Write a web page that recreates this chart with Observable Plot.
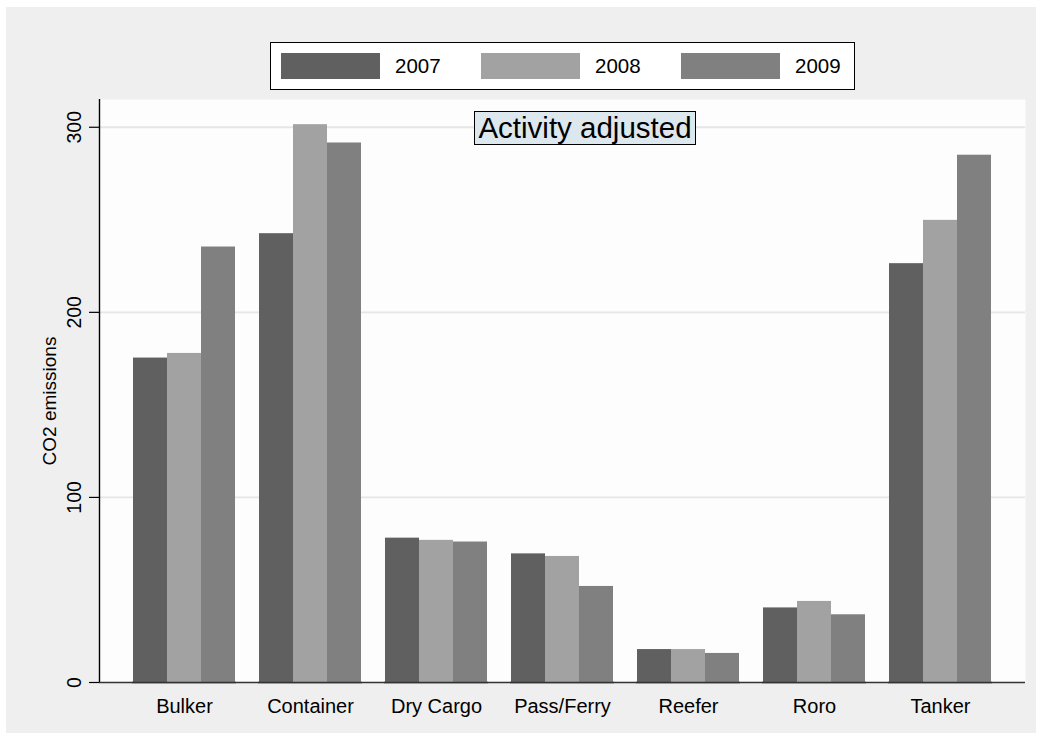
<!DOCTYPE html>
<html>
<head>
<meta charset="utf-8">
<script src="https://cdn.jsdelivr.net/npm/d3@7"></script>
<script src="https://cdn.jsdelivr.net/npm/@observablehq/plot@0.6"></script>
<style>
  body { margin: 0; background: #ffffff; color: #000; font-family: "Liberation Sans", Arial, sans-serif; }
  #chart { position: relative; width: 1042px; height: 740px; }
  #bg { position: absolute; left: 6px; top: 7px; width: 1030px; height: 726px; background: #efefef; }
  .layer { position: absolute; left: 0; top: 0; }
  #legend { position: absolute; left: 270px; top: 42px; width: 585px; height: 48px; box-sizing: border-box;
            border: 1.5px solid #000; background: #fff; display: flex; align-items: center; padding-left: 10px; overflow: hidden; }
  .item { display: flex; align-items: center; width: 200px; flex: 0 0 200px; }
  .sw { width: 99px; height: 26px; margin-right: 15px; flex: 0 0 99px; }
  .lab { font-size: 20.5px; }
  #note { position: absolute; left: 474px; top: 111px; width: 222px; height: 34px; box-sizing: border-box;
          border: 1px solid #000; background: #dce7ee; font-size: 29.5px; line-height: 31px; text-align: center; white-space: nowrap; }
</style>
</head>
<body>
<div id="chart"><div id="bg"></div></div>
<script>
// ---- data ----
const categories = ["Bulker", "Container", "Dry Cargo", "Pass/Ferry", "Reefer", "Roro", "Tanker"];
const years = ["2007", "2008", "2009"];
const v2007 = [175.3, 242.5, 78.0, 69.5, 17.8, 40.3, 226.3];
const v2008 = [177.8, 301.4, 76.8, 68.1, 17.8, 43.8, 249.7];
const v2009 = [235.3, 291.5, 75.9, 51.9, 15.7, 36.6, 284.9];
const yTicks = [0, 100, 200, 300];
const gridValues = [100, 200, 300];
const yLabel = "CO2 emissions";
const noteText = "Activity adjusted";
const colors = ["#606060", "#a2a2a2", "#808080"];

const series = [v2007, v2008, v2009];
const tidy = categories.flatMap((c, i) => years.map((y, j) => ({category: c, year: y, value: series[j][i]})));

const W = 1042, H = 740;
const M = {marginLeft: 99, marginRight: 17, marginTop: 99, marginBottom: 58};
const yScale = {domain: [0, 315], axis: null};

const chart = document.getElementById("chart");

// background layer: frame, grid, y axis
const bgPlot = Plot.plot({
  width: W, height: H, ...M,
  style: {background: "transparent", fontFamily: "'Liberation Sans', Arial, sans-serif", overflow: "visible"},
  x: {domain: [0, 1], axis: null},
  y: yScale,
  marks: [
    Plot.frame({fill: "#fdfdfd", stroke: null}),
    Plot.ruleY(gridValues, {stroke: "#e6e6e6", strokeWidth: 1.8}),
    Plot.axisY({ticks: yTicks, tickSize: 10, tickFormat: () => "", label: null, stroke: "#000", strokeWidth: 1.2}),
    Plot.text(yTicks, {y: d => d, text: d => String(d), frameAnchor: "left", rotate: -90, dx: -19,
                       lineAnchor: "bottom", textAnchor: "middle", fontSize: 19.5, fill: "#000"}),
    Plot.text([yLabel], {frameAnchor: "left", rotate: -90, dx: -44, dy: 10, lineAnchor: "bottom",
                         textAnchor: "middle", fontSize: 19, fill: "#000"}),
    Plot.ruleY([0], {stroke: "#333", strokeWidth: 1.6}),
    Plot.ruleX([0], {stroke: "#000", strokeWidth: 1.4})
  ]
});
bgPlot.classList.add("layer");
chart.appendChild(bgPlot);

// bars layer
const barPlot = Plot.plot({
  width: W, height: H, ...M,
  style: {background: "transparent", fontFamily: "'Liberation Sans', Arial, sans-serif", overflow: "visible"},
  fx: {domain: categories, paddingInner: 0.175, paddingOuter: 0.262, label: null},
  x: {domain: years, axis: null, padding: 0},
  y: yScale,
  color: {domain: years, range: colors},
  marks: [
    Plot.barY(tidy, {fx: "category", x: "year", y: "value", fill: "year"}),
    Plot.ruleY([0], {stroke: "#333", strokeWidth: 1.6}),
    Plot.axisFx({anchor: "bottom", tickSize: 0, tickPadding: 16, fontSize: 20, label: null, fill: "#000"})
  ]
});
barPlot.classList.add("layer");
chart.appendChild(barPlot);

// legend
const legend = document.createElement("div");
legend.id = "legend";
years.forEach((y, j) => {
  const item = document.createElement("div");
  item.className = "item";
  const sw = document.createElement("div");
  sw.className = "sw";
  sw.style.background = colors[j];
  const lab = document.createElement("span");
  lab.className = "lab";
  lab.textContent = y;
  item.appendChild(sw); item.appendChild(lab);
  legend.appendChild(item);
});
chart.appendChild(legend);

// note box
const note = document.createElement("div");
note.id = "note";
note.textContent = noteText;
chart.appendChild(note);
</script>
</body>
</html>
